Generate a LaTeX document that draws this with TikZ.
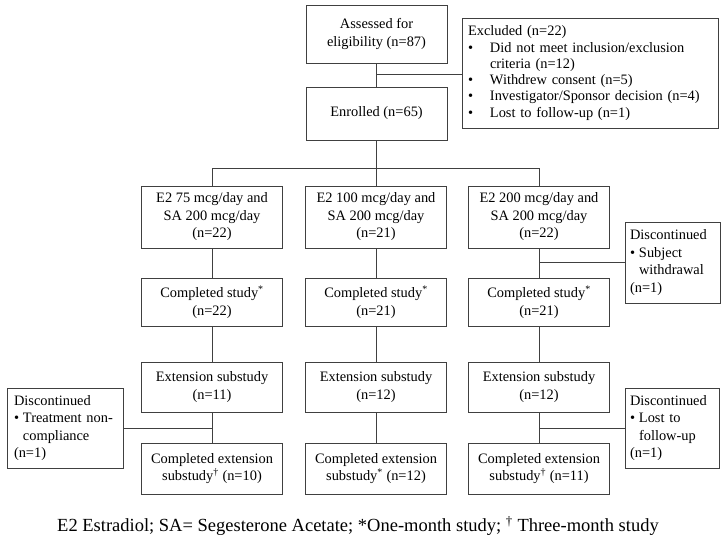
\documentclass[tikz,border=0pt]{standalone}
\usepackage{fontspec}
\setmainfont{Liberation Serif}
\usetikzlibrary{positioning}

\newcommand{\blt}[1]{\makebox[#1][l]{\textbullet}}

\begin{document}
\begin{tikzpicture}[x=1pt, y=-1pt,
    box/.style={draw=black!75, line width=0.7pt, align=center, inner sep=2pt,
        font=\fontsize{14.4}{17.5}\selectfont},
    armbox/.style={box, minimum width=141pt},
    sidebox/.style={box, align=left, inner xsep=6pt},
    link/.style={draw=black!75, line width=0.7pt}]
    % 枠
    \useasboundingbox (0,0) rectangle (725,550);

    % 登録
    \node[box, minimum width=141pt, minimum height=58pt] (assess) at (376.5,34)
        {Assessed for\\eligibility (n=87)};
    \node[box, minimum width=141pt, minimum height=53pt] (enrol) at (376.5,113.5)
        {Enrolled (n=65)};
    \node[sidebox, font=\fontsize{14.4}{16.3}\selectfont, text width=244pt, minimum height=110pt] (excl) at (590,73)
        {Excluded (n=22)\\
         \blt{22pt}Did not meet inclusion/exclusion\\
         \hspace*{22pt}criteria (n=12)\\
         \blt{22pt}Withdrew consent (n=5)\\
         \blt{22pt}Investigator/Sponsor decision (n=4)\\
         \blt{22pt}Lost to follow-up (n=1)};

    % 各群
    \node[armbox, minimum height=62pt] (arm1) at (212,217)
        {E2 75 mcg/day and\\SA 200 mcg/day\\(n=22)};
    \node[armbox, minimum height=62pt] (arm2) at (376,217)
        {E2 100 mcg/day and\\SA 200 mcg/day\\(n=21)};
    \node[armbox, minimum height=62pt] (arm3) at (539,217)
        {E2 200 mcg/day and\\SA 200 mcg/day\\(n=22)};

    \node[armbox, minimum height=48pt] (comp1) at (212,302)
        {Completed study\textsuperscript{*}\\(n=22)};
    \node[armbox, minimum height=48pt] (comp2) at (376,302)
        {Completed study\textsuperscript{*}\\(n=21)};
    \node[armbox, minimum height=48pt] (comp3) at (539,302)
        {Completed study\textsuperscript{*}\\(n=21)};

    \node[armbox, minimum height=50pt] (ext1) at (212,387)
        {Extension substudy\\(n=11)};
    \node[armbox, minimum height=50pt] (ext2) at (376,387)
        {Extension substudy\\(n=12)};
    \node[armbox, minimum height=50pt] (ext3) at (539,387)
        {Extension substudy\\(n=12)};

    \node[armbox, minimum height=51pt] (cext1) at (212,468.5)
        {Completed extension\\substudy\textsuperscript{\dag} (n=10)};
    \node[armbox, minimum height=51pt] (cext2) at (376,468.5)
        {Completed extension\\substudy\textsuperscript{*} (n=12)};
    \node[armbox, minimum height=51pt] (cext3) at (539,468.5)
        {Completed extension\\substudy\textsuperscript{\dag} (n=11)};

    % 脱落
    \node[sidebox, inner xsep=5pt, text width=85pt, minimum height=81pt] (discA) at (672.5,262.5)
        {Discontinued\\\blt{9pt}Subject\\\hspace*{9pt}withdrawal\\(n=1)};
    \node[sidebox, inner xsep=7pt, text width=102pt, minimum height=80pt] (discB) at (65,428)
        {Discontinued\\\blt{9pt}Treatment non-\\\hspace*{9pt}compliance\\(n=1)};
    \node[sidebox, inner xsep=5pt, text width=84pt, minimum height=80pt] (discC) at (672,428)
        {Discontinued\\\blt{9pt}Lost to\\\hspace*{9pt}follow-up\\(n=1)};

    % 線
    \coordinate (j1) at (376.5,74);
    \coordinate (split) at (376.5,168);
    \draw[link] (assess) -- (enrol);
    \draw[link] (j1) -- (j1 -| excl.west);
    \draw[link] (enrol) -- (split);
    \draw[link] (arm1 |- split) -- (arm3 |- split);
    \draw[link] (arm1 |- split) -- (arm1);
    \draw[link] (arm2 |- split) -- (arm2);
    \draw[link] (arm3 |- split) -- (arm3);

    \draw[link] (arm1) -- (comp1) (comp1) -- (ext1) (ext1) -- (cext1);
    \draw[link] (arm2) -- (comp2) (comp2) -- (ext2) (ext2) -- (cext2);
    \draw[link] (arm3) -- (comp3) (comp3) -- (ext3) (ext3) -- (cext3);

    \draw[link] (arm3 |- discA) -- (discA);
    \draw[link] (ext1 |- discB) -- (discB);
    \draw[link] (ext3 |- discC) -- (discC);

    % 注
    \node[font=\fontsize{18.5}{22}\selectfont] (note) at (358,526)
        {E2 Estradiol; SA= Segesterone Acetate; *One-month study; \textsuperscript{\dag} Three-month study};
\end{tikzpicture}
\end{document}
